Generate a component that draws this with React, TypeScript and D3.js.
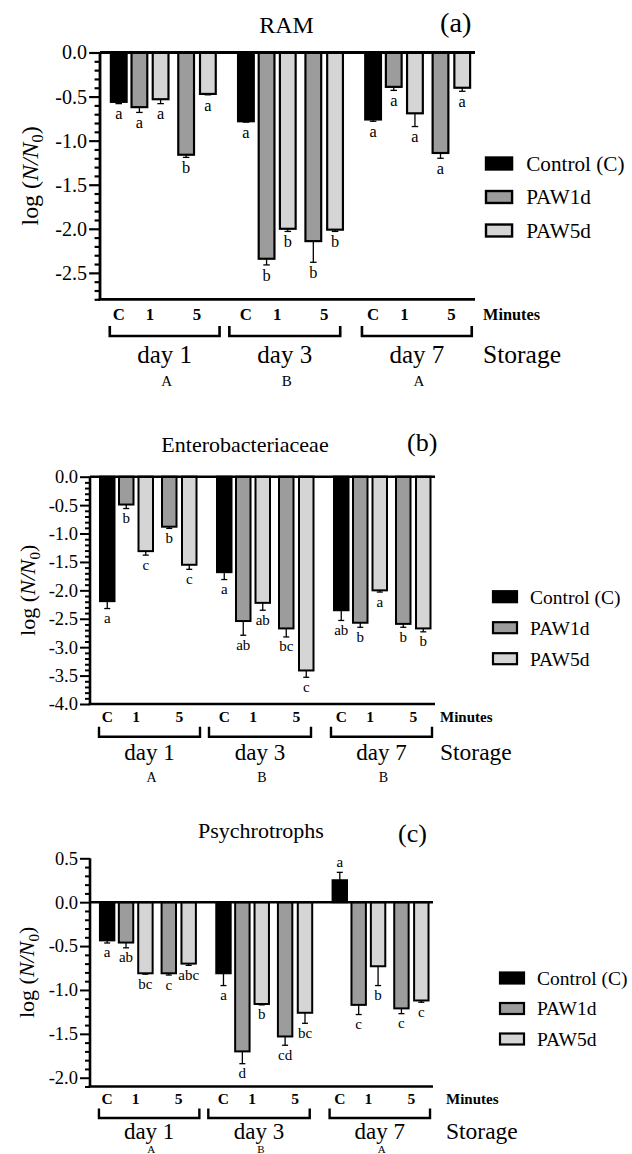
import React, { useEffect, useRef } from 'react'
import * as d3 from 'd3'

// storage days / minutes / series
const days = ['day 1', 'day 3', 'day 7']
const minuteLabels = ['C', '1', '5']
const seriesNames = ['Control (C)', 'PAW1d', 'PAW5d']
const seriesColors = ['#000000', '#9c9c9c', '#d5d5d5']
// bar order inside one day: control, 1 min (PAW1d, PAW5d), 5 min (PAW1d, PAW5d)
const barSeries = [0, 1, 2, 1, 2]

// (a) RAM
const ramMean = [-0.56, -0.62, -0.53, -1.16, -0.47, -0.78, -2.34, -2.0, -2.14, -2.01, -0.76, -0.39, -0.69, -1.14, -0.4]
const ramSd = [0.02, 0.06, 0.05, 0.03, 0.01, 0.01, 0.07, 0.03, 0.24, 0.02, 0.02, 0.04, 0.15, 0.06, 0.04]
const ramSig = ['a', 'a', 'a', 'b', 'a', 'a', 'b', 'b', 'b', 'b', 'a', 'a', 'a', 'a', 'a']
const ramDayLetters = ['A', 'B', 'A']
const ramTicks = [0, -0.5, -1, -1.5, -2, -2.5]

// (b) Enterobacteriaceae
const entMean = [-2.19, -0.49, -1.31, -0.88, -1.55, -1.68, -2.54, -2.22, -2.67, -3.41, -2.35, -2.57, -2.0, -2.59, -2.67]
const entSd = [0.13, 0.07, 0.07, 0.03, 0.08, 0.13, 0.25, 0.13, 0.15, 0.12, 0.18, 0.08, 0.03, 0.06, 0.06]
const entSig = ['a', 'b', 'c', 'b', 'c', 'a', 'ab', 'ab', 'bc', 'c', 'ab', 'b', 'a', 'b', 'b']
const entDayLetters = ['A', 'B', 'B']
const entTicks = [0, -0.5, -1, -1.5, -2, -2.5, -3, -3.5, -4]

// (c) Psychrotrophs
const psyMean = [-0.435, -0.46, -0.81, -0.81, -0.7, -0.81, -1.7, -1.16, -1.53, -1.26, 0.25, -1.17, -0.73, -1.21, -1.12]
const psySd = [0.03, 0.06, 0.01, 0.02, 0.02, 0.14, 0.14, 0.01, 0.1, 0.12, 0.09, 0.11, 0.22, 0.06, 0.02]
const psySig = ['a', 'ab', 'bc', 'c', 'abc', 'a', 'd', 'b', 'cd', 'bc', 'a', 'c', 'b', 'c', 'c']
const psyDayLetters = ['A', 'B', 'A']
const psyTicks = [0.5, 0, -0.5, -1, -1.5, -2]

// layout in "units" of a 345 wide plot
const BASE_W = 345
const FIRST = 10
const DAY_STEP = 117
const BAR_OFF = [0, 19, 38.5, 62, 82]
const BAR_W = 14.5
const BRACKETS = [[9, 110], [119, 221], [241, 342]]

const FONT = "Liberation Serif, Times New Roman, DejaVu Serif, serif"

const panels = [
  {
    title: 'RAM', tag: '(a)', mean: ramMean, sd: ramSd, sig: ramSig, dayLetters: ramDayLetters, ticks: ramTicks,
    domain: [-2.8, 0], x0: 100, x1: 475, yTop: 52.5, yBottom: 299.3, k: 1.087,
    titleX: 286.5, titleY: 33, tagX: 440, tagY: 32, legendX: 486, legendY: 163.5, legendStep: 33.5,
    sideX: 483, yLabelX: 38, rows: [20.7, 36.7, 26.7, 63.7, 86.7], letterSize: 15
  },
  {
    title: 'Enterobacteriaceae', tag: '(b)', mean: entMean, sd: entSd, sig: entSig, dayLetters: entDayLetters, ticks: entTicks,
    domain: [-4, 0], x0: 90, x1: 435, yTop: 476.7, yBottom: 704, k: 1,
    titleX: 245, titleY: 452, tagX: 407, tagY: 451, legendX: 493, legendY: 596.7, legendStep: 31,
    sideX: 440, yLabelX: 35, rows: [17.7, 32.7, 22.7, 55.5, 77.7], letterSize: 14
  },
  {
    title: 'Psychrotrophs', tag: '(c)', mean: psyMean, sd: psySd, sig: psySig, dayLetters: psyDayLetters, ticks: psyTicks,
    domain: [-2.1, 0.5], x0: 90, x1: 433, yTop: 858.3, yBottom: 1086.5, k: 1,
    titleX: 261, titleY: 838, tagX: 398, tagY: 842, legendX: 500, legendY: 978, legendStep: 30.5,
    // the page ends here: day letters are squeezed in just above the bottom edge
    sideX: 446, yLabelX: 34, rows: [17.2, 31.5, 22, 52.3, 66.7], letterSize: 11
  }
]

function drawPanel(svg, p) {
  const k = p.k
  const g = svg.append('g')

  const x = d3.scaleLinear().domain([0, BASE_W]).range([p.x0, p.x1])
  const y = d3.scaleLinear().domain(p.domain).range([p.yBottom, p.yTop])

  const bars = p.mean.map((m, i) => {
    const day = Math.floor(i / 5)
    const slot = i % 5
    const u = FIRST + DAY_STEP * day + BAR_OFF[slot]
    return { m, sd: p.sd[i], sig: p.sig[i], series: barSeries[slot], left: x(u), right: x(u + BAR_W) }
  })

  // bars
  g.selectAll('rect.bar').data(bars).enter().append('rect')
    .attr('class', 'bar')
    .attr('x', d => d.left)
    .attr('width', d => d.right - d.left)
    .attr('y', d => Math.min(y(d.m), y(0)))
    .attr('height', d => Math.abs(y(d.m) - y(0)))
    .attr('fill', d => seriesColors[d.series])
    .attr('stroke', '#000')
    .attr('stroke-width', 2 * k)

  // error bars (one sided, away from zero)
  bars.forEach(d => {
    const cx = (d.left + d.right) / 2
    const end = d.m < 0 ? d.m - d.sd : d.m + d.sd
    g.append('line').attr('x1', cx).attr('x2', cx).attr('y1', y(d.m)).attr('y2', y(end))
      .attr('stroke', '#000').attr('stroke-width', 1.3)
    g.append('line').attr('x1', cx - 3 * k).attr('x2', cx + 3 * k).attr('y1', y(end)).attr('y2', y(end))
      .attr('stroke', '#000').attr('stroke-width', 1.3)
    g.append('text')
      .attr('x', cx)
      .attr('y', d.m < 0 ? y(end) + 14.5 * k : y(end) - 5)
      .attr('text-anchor', 'middle')
      .attr('font-size', 15 * k)
      .text(d.sig)
  })

  // y axis: major + minor ticks
  const minor = d3.range(Math.round(p.domain[0] * 10), Math.round(p.domain[1] * 10) + 1)
    .map(i => i / 10)
    .filter(v => !p.ticks.some(t => Math.abs(t - v) < 1e-6))

  const minorAxis = g.append('g').attr('transform', `translate(${p.x0},0)`)
    .call(d3.axisLeft(y).tickValues(minor).tickSize(5 * k).tickSizeOuter(0).tickFormat(() => ''))
  minorAxis.select('.domain').remove()
  minorAxis.selectAll('line').attr('stroke-width', 2 * k)

  const majorAxis = g.append('g').attr('transform', `translate(${p.x0},0)`)
    .call(d3.axisLeft(y).tickValues(p.ticks).tickSize(10 * k).tickSizeOuter(0).tickPadding(2)
      .tickFormat(d => d.toFixed(1)))
  majorAxis.select('.domain').remove()
  majorAxis.selectAll('line').attr('stroke-width', 2 * k)
  majorAxis.selectAll('text').attr('font-size', 18.5 * k).attr('fill', '#000')

  // axis lines
  g.append('line').attr('x1', p.x0).attr('x2', p.x0).attr('y1', y(p.domain[1])).attr('y2', y(p.domain[0]))
    .attr('stroke', '#000').attr('stroke-width', 2.6 * k)
  g.append('line').attr('x1', p.x0).attr('x2', p.x1).attr('y1', y(0)).attr('y2', y(0))
    .attr('stroke', '#000').attr('stroke-width', 2.6 * k)
  g.append('line').attr('x1', p.x0 - 1.3 * k).attr('x2', p.x1).attr('y1', y(p.domain[0])).attr('y2', y(p.domain[0]))
    .attr('stroke', '#000').attr('stroke-width', 2.6 * k)

  // x labels: minutes, brackets, days
  const base = y(p.domain[0])
  const [rMin, rBr, rBrTop, rDay, rLet] = p.rows
  days.forEach((dayName, di) => {
    const b = bars.slice(di * 5, di * 5 + 5)
    const centers = [(b[0].left + b[0].right) / 2, (b[1].left + b[2].right) / 2, (b[3].left + b[4].right) / 2]
    minuteLabels.forEach((ml, mi) => {
      g.append('text').attr('x', centers[mi]).attr('y', base + rMin)
        .attr('text-anchor', 'middle').attr('font-weight', 'bold').attr('font-size', 15.5 * k).text(ml)
    })
    const [bl, br] = BRACKETS[di].map(x)
    g.append('path')
      .attr('d', `M${bl},${base + rBrTop}V${base + rBr}H${br}V${base + rBrTop}`)
      .attr('fill', 'none').attr('stroke', '#000').attr('stroke-width', 2.4 * k)
    const mid = (bl + br) / 2
    g.append('text').attr('x', mid).attr('y', base + rDay).attr('text-anchor', 'middle')
      .attr('font-size', 23 * k).text(dayName)
    g.append('text').attr('x', mid + 2).attr('y', base + rLet).attr('text-anchor', 'middle')
      .attr('font-size', p.letterSize).text(p.dayLetters[di])
  })
  g.append('text').attr('x', p.sideX).attr('y', base + rMin).attr('font-weight', 'bold')
    .attr('font-size', 15 * k).text('Minutes')
  g.append('text').attr('x', p.sideX).attr('y', base + rDay).attr('font-size', 23.5 * k).text('Storage')

  // titles
  g.append('text').attr('x', p.titleX).attr('y', p.titleY).attr('text-anchor', 'middle')
    .attr('font-size', 22 * k).text(p.title)
  g.append('text').attr('x', p.tagX).attr('y', p.tagY).attr('font-size', 26 * k).text(p.tag)

  // y label
  const yMid = (p.yTop + p.yBottom) / 2
  const yl = g.append('text')
    .attr('transform', `translate(${p.yLabelX},${yMid}) rotate(-90)`)
    .attr('text-anchor', 'middle')
    .attr('font-size', 22 * k)
  yl.append('tspan').text('log (')
  yl.append('tspan').attr('font-style', 'italic').text('N/N')
  yl.append('tspan').attr('font-size', 15 * k).attr('dy', 5 * k).text('0')
  yl.append('tspan').attr('dy', -5 * k).text(')')

  // legend
  seriesNames.forEach((name, si) => {
    const cy = p.legendY + si * p.legendStep
    g.append('rect')
      .attr('x', p.legendX).attr('y', cy - 5.5 * k)
      .attr('width', 24 * k).attr('height', 11 * k)
      .attr('fill', seriesColors[si]).attr('stroke', '#000').attr('stroke-width', 2.2 * k)
    g.append('text').attr('x', p.legendX + 37 * k).attr('y', cy).attr('dy', '0.35em')
      .attr('font-size', 19.5 * k).text(name)
  })
}

export default function App() {
  const ref = useRef(null)

  useEffect(() => {
    const svg = d3.select(ref.current)
    svg.selectAll('*').remove()
    panels.forEach(p => drawPanel(svg, p))
    // serif everywhere, also inside the d3 axes
    svg.selectAll('g').attr('font-family', FONT)
    svg.selectAll('text').attr('font-family', FONT).attr('fill', '#000')
  }, [])

  return (
    <div style={{ position: 'absolute', left: 0, top: 0 }}>
      <svg ref={ref} width={632} height={1154} style={{ display: 'block', background: '#fff' }} />
    </div>
  )
}
